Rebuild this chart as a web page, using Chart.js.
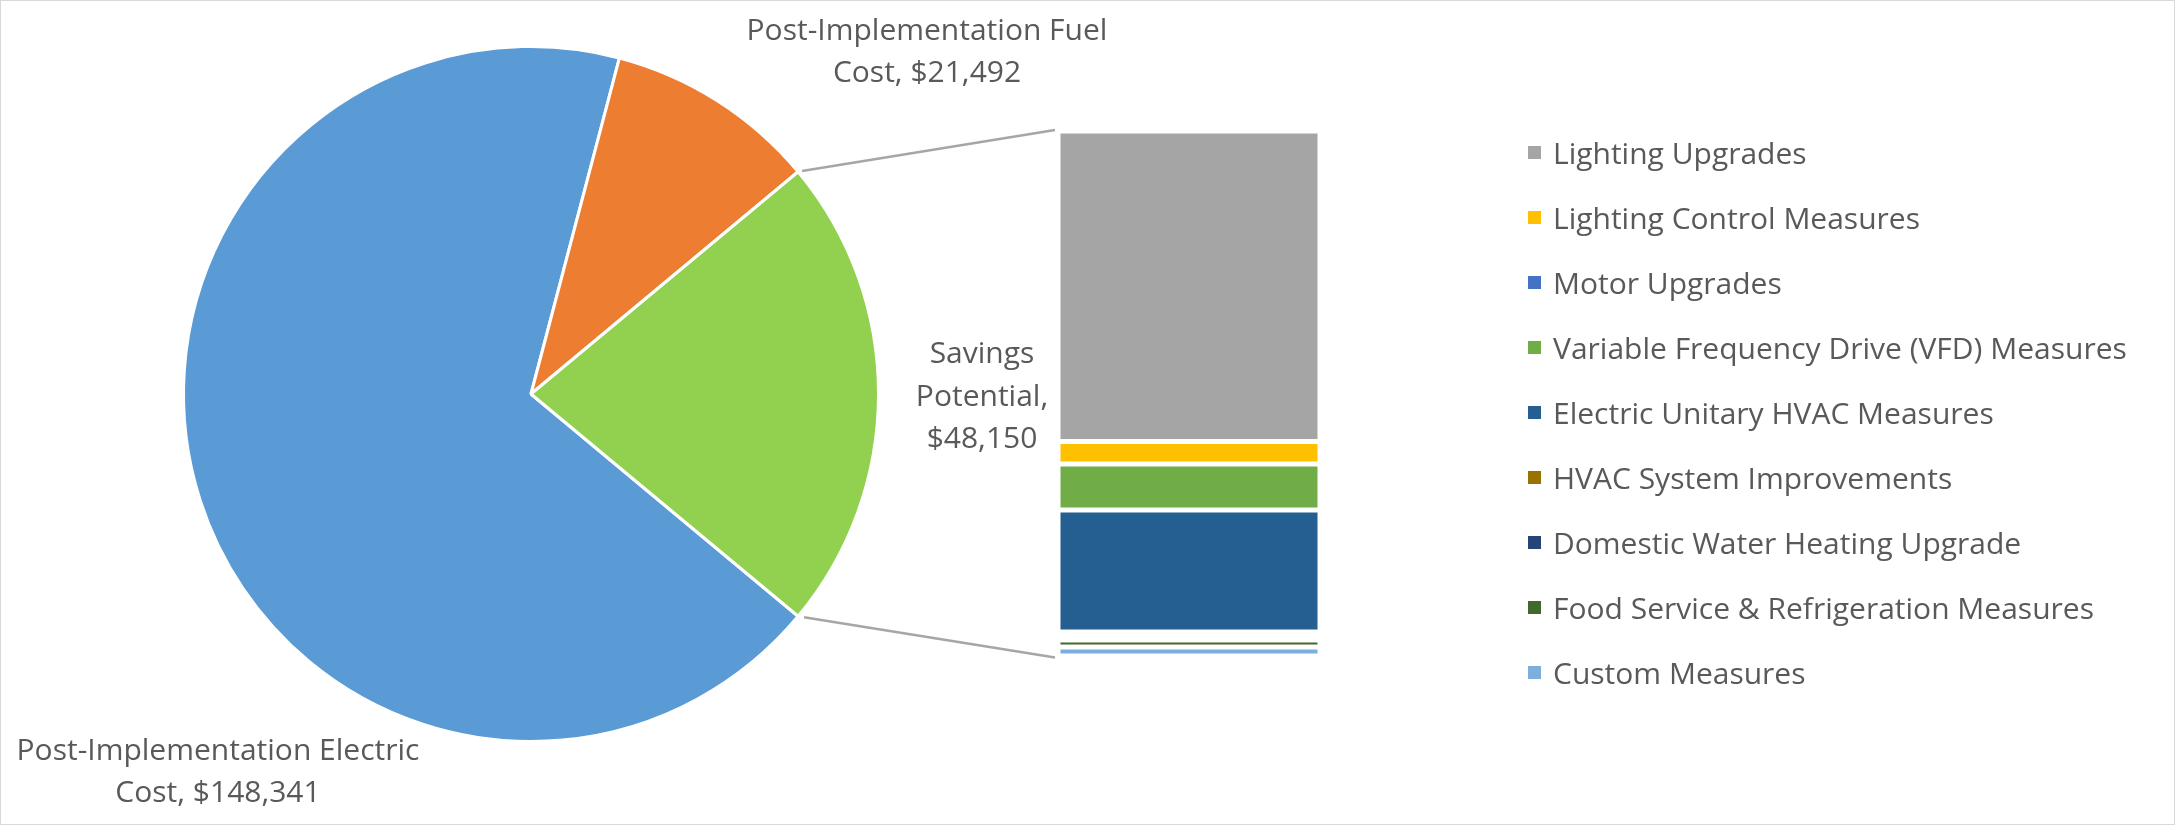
<!DOCTYPE html>
<html>
<head>
<meta charset="utf-8">
<script src="https://cdn.jsdelivr.net/npm/chart.js@4.4.1/dist/chart.umd.min.js"></script>
<style>
  html, body { margin: 0; padding: 0; background: #ffffff; }
  body { width: 2175px; height: 825px; position: relative; overflow: hidden; }
  #pie { position: absolute; left: 0; top: 0; }
  #bar { position: absolute; left: 1058px; top: 131px; }
  #frame { position: absolute; left: 0; top: 0; width: 2175px; height: 825px; box-sizing: border-box; border: 1px solid #d9d9d9; pointer-events: none; }
  #legend { position: absolute; left: 0; top: 0; font-family: "Open Sans", sans-serif; font-size: 30px; color: #595959; }
  .lg-box { position: absolute; width: 13px; height: 13px; }
  .lg-text { position: absolute; white-space: nowrap; line-height: 30px; }
</style>
</head>
<body>
<canvas id="pie" width="2175" height="825"></canvas>
<canvas id="bar" width="262" height="525"></canvas>
<div id="legend"></div>
<div id="frame"></div>
<script>
// ---- data ----
const pieLabels = ["Post-Implementation Electric Cost", "Post-Implementation Fuel Cost", "Savings Potential"];
const pieValues = [148341, 21492, 48150];
const pieColors = ["#5B9BD5", "#ED7D31", "#92D050"];

const measureLabels = [
  "Lighting Upgrades",
  "Lighting Control Measures",
  "Motor Upgrades",
  "Variable Frequency Drive (VFD) Measures",
  "Electric Unitary HVAC Measures",
  "HVAC System Improvements",
  "Domestic Water Heating Upgrade",
  "Food Service & Refrigeration Measures",
  "Custom Measures"
];
const measureValues = [28477, 2064, 0, 4219, 11189, 367, 367, 642, 825];
const measureColors = ["#A5A5A5", "#FFC000", "#4472C4", "#70AD47", "#255E91", "#997300", "#264478", "#43682B", "#7CAFDD"];

const fmt = v => "$" + v.toLocaleString("en-US");
const textColor = "#595959";
const labelFont = '30px "Open Sans"';

// ---- bar (breakdown of savings) ----
const barTotal = measureValues.reduce((a, b) => a + b, 0);
const barDatasets = measureLabels.map((lab, i) => ({
  label: lab,
  data: [measureValues[i]],
  backgroundColor: measureColors[i],
  borderColor: "#ffffff",
  borderWidth: 2.5,
  borderSkipped: false,
  inflateAmount: 0,
  barPercentage: 1,
  categoryPercentage: 1
})).reverse();

const barChart = new Chart(document.getElementById("bar"), {
  type: "bar",
  data: { labels: ["Savings Potential"], datasets: barDatasets },
  options: {
    responsive: false,
    animation: false,
    devicePixelRatio: 1,
    layout: { padding: 0 },
    plugins: { legend: { display: false }, tooltip: { enabled: false } },
    scales: {
      x: { display: false, stacked: true },
      y: { display: false, stacked: true, min: 0, max: barTotal }
    }
  }
});

// ---- pie ----
const pieTotal = pieValues.reduce((a, b) => a + b, 0);
const savingsIdx = 2;
const rotationDeg = 90 + (pieValues[savingsIdx] / pieTotal) * 180;

const labelPlugin = {
  id: "pieLabels",
  afterDraw(chart) {
    const ctx = chart.ctx;
    const meta = chart.getDatasetMeta(0);
    const arc = meta.data[savingsIdx];
    const barCanvas = document.getElementById("bar");
    const bx = barCanvas.offsetLeft;
    const by = barCanvas.offsetTop;
    const ys = barChart.scales.y;
    const barTopY = by + ys.getPixelForValue(barTotal);
    const barBotY = by + ys.getPixelForValue(0);
    const barLeftX = bx + barChart.chartArea.left;

    ctx.save();
    // connector lines
    ctx.strokeStyle = "#A6A6A6";
    ctx.lineWidth = 2.5;
    const pts = [
      [arc.startAngle, barTopY - 1, 4],
      [arc.endAngle, barBotY + 1.5, 6]
    ];
    pts.forEach(([a, ty, gap]) => {
      const px = arc.x + arc.outerRadius * Math.cos(a);
      const py = arc.y + arc.outerRadius * Math.sin(a);
      const tx = barLeftX - 3;
      const dx = tx - px, dy = ty - py;
      const len = Math.hypot(dx, dy);
      ctx.beginPath();
      ctx.moveTo(px + dx / len * gap, py + dy / len * gap);
      ctx.lineTo(tx, ty);
      ctx.stroke();
    });

    // data labels
    ctx.fillStyle = textColor;
    ctx.font = labelFont;
    ctx.textAlign = "center";
    ctx.textBaseline = "alphabetic";
    const lines = [
      { x: 218, ys: [760, 802], text: ["Post-Implementation Electric", "Cost, " + fmt(pieValues[0])] },
      { x: 927, ys: [40, 82], text: ["Post-Implementation Fuel", "Cost, " + fmt(pieValues[1])] },
      { x: 982, ys: [363, 406, 448], text: ["Savings", "Potential,", fmt(pieValues[2])] }
    ];
    lines.forEach(l => l.text.forEach((t, i) => ctx.fillText(t, l.x, l.ys[i])));
    ctx.restore();
  }
};

new Chart(document.getElementById("pie"), {
  type: "pie",
  data: {
    labels: pieLabels,
    datasets: [{
      data: pieValues,
      backgroundColor: pieColors,
      borderColor: "#ffffff",
      borderWidth: 3,
      hoverOffset: 0
    }]
  },
  options: {
    responsive: false,
    animation: false,
    devicePixelRatio: 1,
    rotation: rotationDeg,
    layout: { padding: { left: 182, top: 45, right: 1295, bottom: 82 } },
    plugins: { legend: { display: false }, tooltip: { enabled: false } }
  },
  plugins: [labelPlugin]
});

// ---- legend ----
const legend = document.getElementById("legend");
measureLabels.forEach((lab, i) => {
  const cy = 152 + i * 65;
  const box = document.createElement("div");
  box.className = "lg-box";
  box.style.left = "1528px";
  box.style.top = (cy - 6.5) + "px";
  box.style.background = measureColors[i];
  legend.appendChild(box);
  const tx = document.createElement("div");
  tx.className = "lg-text";
  tx.style.left = "1553px";
  tx.style.top = (cy - 14.5) + "px";
  tx.textContent = lab;
  legend.appendChild(tx);
});
</script>
</body>
</html>
